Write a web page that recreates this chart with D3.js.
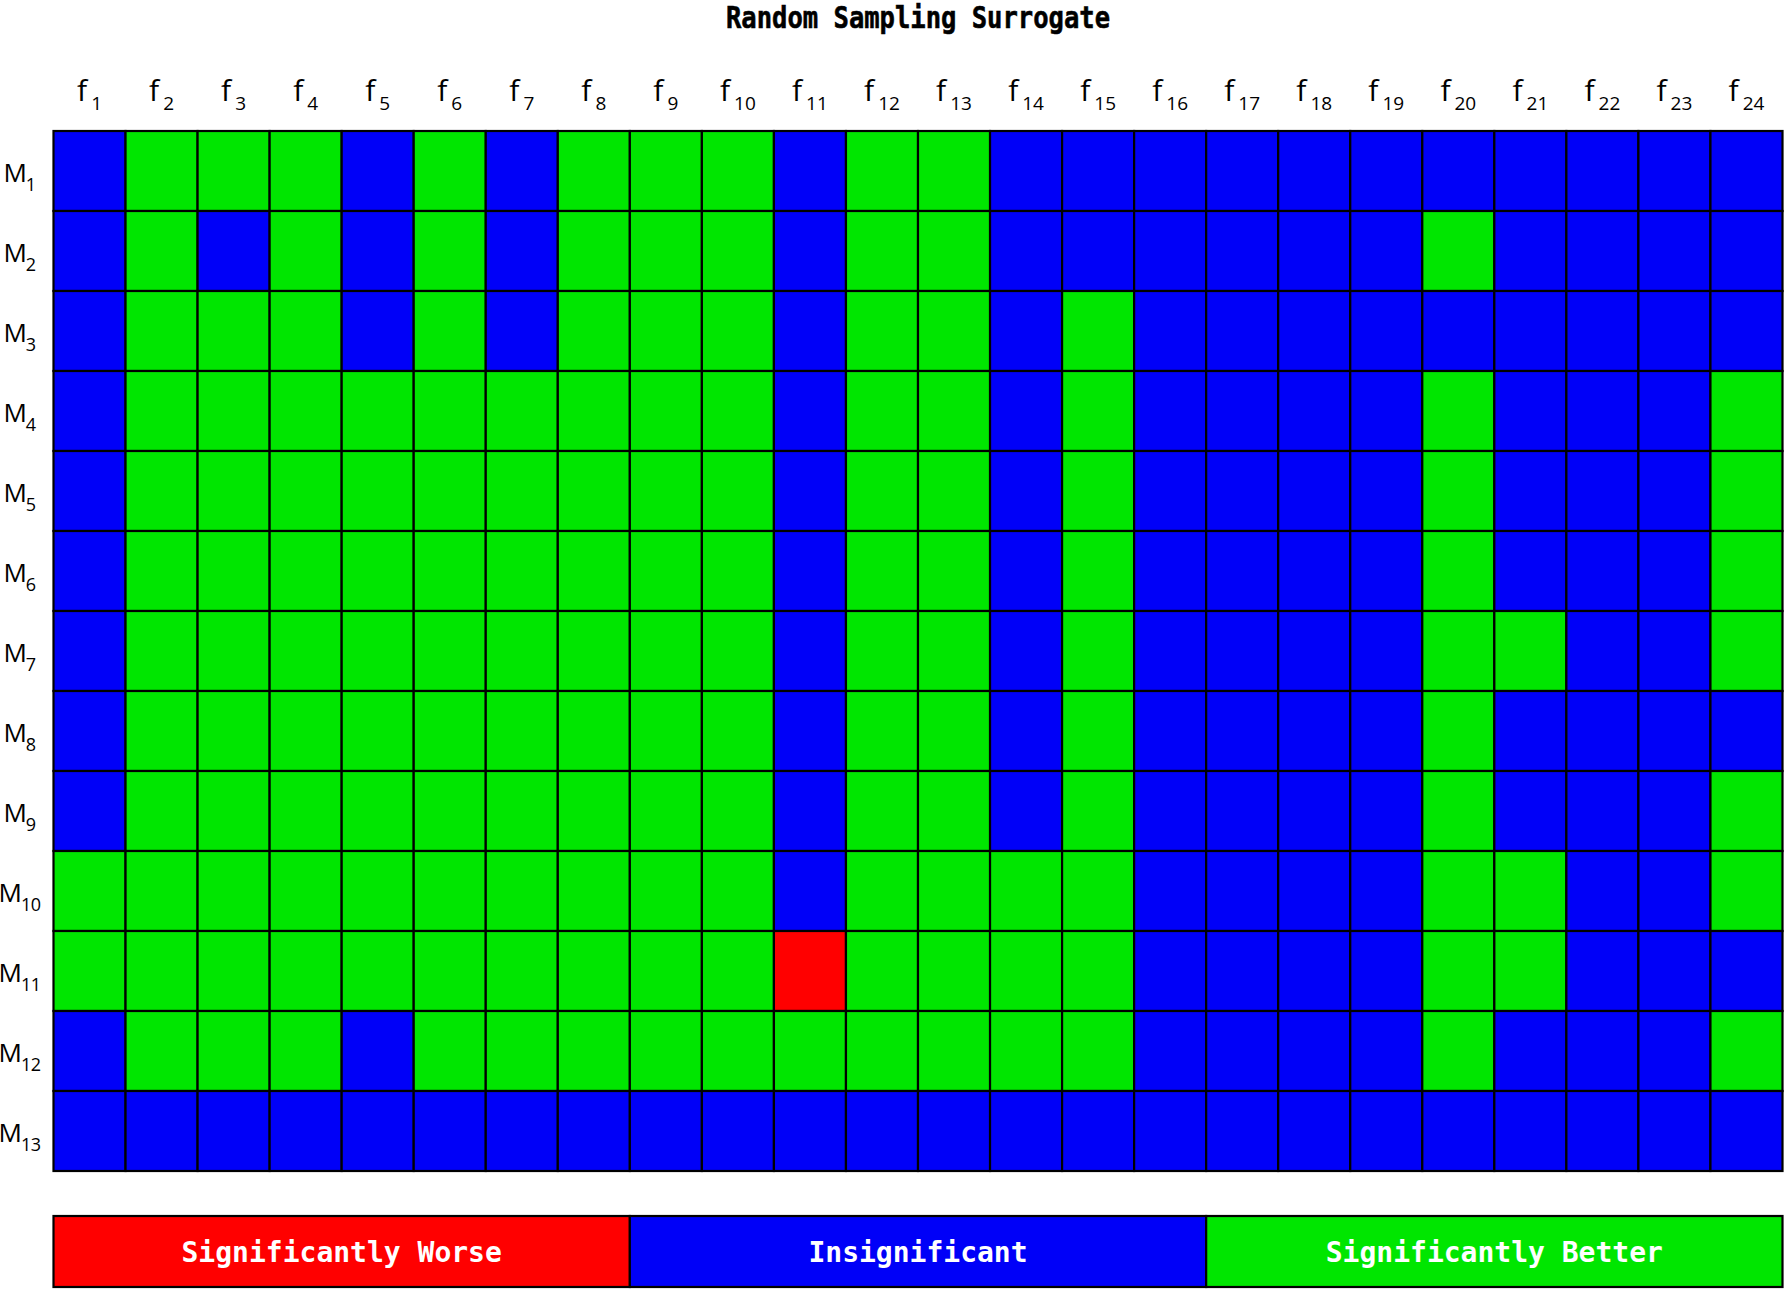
<!DOCTYPE html>
<html>
<head>
<meta charset="utf-8">
<script src="https://cdn.jsdelivr.net/npm/d3@7"></script>
<style>
  body { margin: 0; background: #fff; }
  svg { display: block; }
</style>
</head>
<body>
<svg id="chart" width="1784" height="1289"></svg>
<script>
// categories
var functions = d3.range(1, 25).map(function(i){ return "f" + i; });
var methods = d3.range(1, 14).map(function(i){ return "M" + i; });

// -1 = significantly worse, 0 = insignificant, 1 = significantly better
var M1  = [0,1,1,1,0,1,0,1,1,1,0,1,1,0,0,0,0,0,0,0,0,0,0,0];
var M2  = [0,1,0,1,0,1,0,1,1,1,0,1,1,0,0,0,0,0,0,1,0,0,0,0];
var M3  = [0,1,1,1,0,1,0,1,1,1,0,1,1,0,1,0,0,0,0,0,0,0,0,0];
var M4  = [0,1,1,1,1,1,1,1,1,1,0,1,1,0,1,0,0,0,0,1,0,0,0,1];
var M5  = [0,1,1,1,1,1,1,1,1,1,0,1,1,0,1,0,0,0,0,1,0,0,0,1];
var M6  = [0,1,1,1,1,1,1,1,1,1,0,1,1,0,1,0,0,0,0,1,0,0,0,1];
var M7  = [0,1,1,1,1,1,1,1,1,1,0,1,1,0,1,0,0,0,0,1,1,0,0,1];
var M8  = [0,1,1,1,1,1,1,1,1,1,0,1,1,0,1,0,0,0,0,1,0,0,0,0];
var M9  = [0,1,1,1,1,1,1,1,1,1,0,1,1,0,1,0,0,0,0,1,0,0,0,1];
var M10 = [1,1,1,1,1,1,1,1,1,1,0,1,1,1,1,0,0,0,0,1,1,0,0,1];
var M11 = [1,1,1,1,1,1,1,1,1,1,-1,1,1,1,1,0,0,0,0,1,1,0,0,0];
var M12 = [0,1,1,1,0,1,1,1,1,1,1,1,1,1,1,0,0,0,0,1,0,0,0,1];
var M13 = [0,0,0,0,0,0,0,0,0,0,0,0,0,0,0,0,0,0,0,0,0,0,0,0];
var rows = [M1,M2,M3,M4,M5,M6,M7,M8,M9,M10,M11,M12,M13];

var legendValues = [-1, 0, 1];
var legendLabels = ["Significantly Worse", "Insignificant", "Significantly Better"];

var svg = d3.select("#chart");

// grid box (note: "top" is taken by window.top, so use other names)
var gridLeft = 53.5, gridRight = 1782.5, gridTop = 131, gridBottom = 1171;

var x = d3.scaleBand().domain(functions).range([gridLeft, gridRight]).padding(0);
var y = d3.scaleBand().domain(methods).range([gridTop, gridBottom]).padding(0);
var color = d3.scaleOrdinal().domain(legendValues).range(["#ff0000", "#0000f8", "#00e600"]);

// flatten cells
var cells = [];
rows.forEach(function(r, i){
  r.forEach(function(v, j){
    cells.push({m: methods[i], f: functions[j], v: v});
  });
});

svg.append("g")
  .selectAll("rect")
  .data(cells)
  .enter().append("rect")
  .attr("x", function(d){ return x(d.f); })
  .attr("y", function(d){ return y(d.m); })
  .attr("width", x.bandwidth())
  .attr("height", y.bandwidth())
  .attr("fill", function(d){ return color(d.v); })
  .attr("stroke", "#000")
  .attr("stroke-width", 2.2);

// title
svg.append("text")
  .attr("x", (gridLeft + gridRight) / 2)
  .attr("y", 28)
  .attr("text-anchor", "middle")
  .attr("font-family", "DejaVu Sans Mono")
  .attr("font-weight", "bold")
  .attr("font-size", 31)
  .attr("stroke", "#000")
  .attr("stroke-width", 0.6)
  .attr("textLength", 384)
  .attr("lengthAdjust", "spacingAndGlyphs")
  .text("Random Sampling Surrogate");

var labelFont = "Open Sans";

// column labels
var colLab = svg.append("g").selectAll("text")
  .data(functions)
  .enter().append("text")
  .attr("x", function(d){ return x(d) + x.bandwidth() / 2; })
  .attr("y", 101)
  .attr("text-anchor", "middle")
  .attr("font-family", labelFont)
  .attr("fill", "#000");
colLab.append("tspan").attr("font-size", 30).attr("font-weight", 500).text("f");
colLab.append("tspan").attr("font-size", 19).attr("dx", 4).attr("dy", 9)
  .text(function(d){ return d.slice(1); });

// row labels
var rowLab = svg.append("g").selectAll("text")
  .data(methods)
  .enter().append("text")
  .attr("x", 19.5)
  .attr("y", function(d){ return y(d) + y.bandwidth() / 2 + 11; })
  .attr("text-anchor", "middle")
  .attr("font-family", labelFont)
  .attr("fill", "#000");
rowLab.append("tspan").attr("font-size", 26).attr("font-weight", 500).text("M");
rowLab.append("tspan").attr("font-size", 18).attr("dx", -1).attr("dy", 9)
  .attr("letter-spacing", -0.5)
  .text(function(d){ return d.slice(1); });

// legend
var lx = d3.scaleBand().domain(legendValues).range([gridLeft, gridRight]).padding(0);
var ly = 1216, lh = 71;
var leg = svg.append("g").selectAll("g")
  .data(legendValues)
  .enter().append("g");
leg.append("rect")
  .attr("x", function(d){ return lx(d); })
  .attr("y", ly)
  .attr("width", lx.bandwidth())
  .attr("height", lh)
  .attr("fill", function(d){ return color(d); })
  .attr("stroke", "#000")
  .attr("stroke-width", 2.2);
leg.append("text")
  .attr("x", function(d){ return lx(d) + lx.bandwidth() / 2; })
  .attr("y", 1262)
  .attr("text-anchor", "middle")
  .attr("font-family", "DejaVu Sans Mono")
  .attr("font-weight", "bold")
  .attr("font-size", 28)
  .attr("fill", "#fff")
  .text(function(d, i){ return legendLabels[i]; });
</script>
</body>
</html>
